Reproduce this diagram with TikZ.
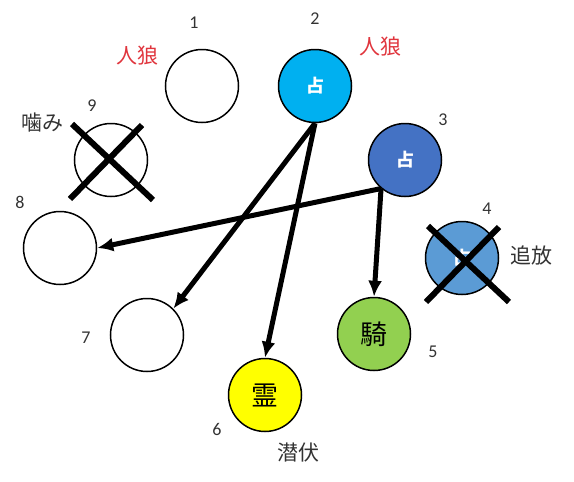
\documentclass[tikz,border=0pt]{standalone}
\usepackage{fontspec}
\setmainfont{Carlito}
\newfontfamily\jp{Noto Sans CJK JP}
\usetikzlibrary{arrows.meta,positioning}
\definecolor{uranai}{HTML}{00B0F0}
\definecolor{uranaib}{HTML}{4472C4}
\definecolor{tsuiho}{HTML}{5B9BD5}
\definecolor{kishi}{HTML}{92D050}
\definecolor{reino}{HTML}{FFFF00}
\definecolor{jinro}{HTML}{E0353D}
\definecolor{moji}{HTML}{333333}
\tikzset{
  player/.style={circle,draw,line width=1.5pt,minimum size=73pt,inner sep=0pt,font=\jp\fontsize{27}{27}\selectfont},
  uranaitext/.style={text=white,font=\jp\bfseries\fontsize{18}{18}\selectfont},
  num/.style={text=moji,font=\fontsize{18}{18}\selectfont},
  memo/.style={text=moji,font=\jp\fontsize{21}{21}\selectfont},
  wolf/.style={text=jinro,font=\jp\fontsize{21}{21}\selectfont},
  batsu/.style={line width=6pt},
  shiji/.style={-{Latex[length=16pt,width=14pt]},line width=5pt}
}
\begin{document}
\begin{tikzpicture}[x=1pt,y=-1pt]
\useasboundingbox (0,0) rectangle (574,482);
% players
\node[player] (c1) at (202,86) {};
\node[player,fill=uranai,uranaitext] (c2) at (315,86) {占};
\node[player,fill=uranaib,uranaitext] (c3) at (405,160) {占};
\node[player,fill=tsuiho,uranaitext] (c4) at (462,258) {占};
\node[player,fill=kishi] (c5) at (374,334) {騎};
\node[player,fill=reino] (c6) at (265,395) {霊};
\node[player] (c7) at (147,335) {};
\node[player] (c8) at (60,248) {};
\node[player] (c9) at (111,160) {};

% numbers
\node[num] (n1) at (194,23) {1};
\node[num] (n2) at (315,19) {2};
\node[num] (n3) at (443,120) {3};
\node[num] (n4) at (487,209) {4};
\node[num] (n5) at (433,352) {5};
\node[num] (n6) at (217,429) {6};
\node[num] (n7) at (86,338) {7};
\node[num] (n8) at (20,202) {8};
\node[num] (n9) at (92,106) {9};

% notes
\node[wolf] (w1) at (137,56) {人狼};
\node[wolf] (w2) at (380,47) {人狼};
\node[memo] (kami) at (42,123) {噛み};
\node[memo] (tsui) at (531,256) {追放};
\node[memo] (senp) at (298,453) {潜伏};

% crosses
\draw[batsu] ([shift={(-39,-36)}]c9.center) -- ([shift={(42,40)}]c9.center);
\draw[batsu] ([shift={(31,-35)}]c9.center) -- ([shift={(-41,39)}]c9.center);
\draw[batsu] ([shift={(-34,-32)}]c4.center) -- ([shift={(47,44)}]c4.center);
\draw[batsu] ([shift={(37,-31)}]c4.center) -- ([shift={(-36,44)}]c4.center);

% results
\draw[shiji] (c2.south) -- (c7.45);
\draw[shiji] (c2.south) -- (c6.north);
\draw[shiji] (c3.230) -- (c8.east);
\draw[shiji] (c3.230) -- (c5.north);
\end{tikzpicture}
\end{document}
